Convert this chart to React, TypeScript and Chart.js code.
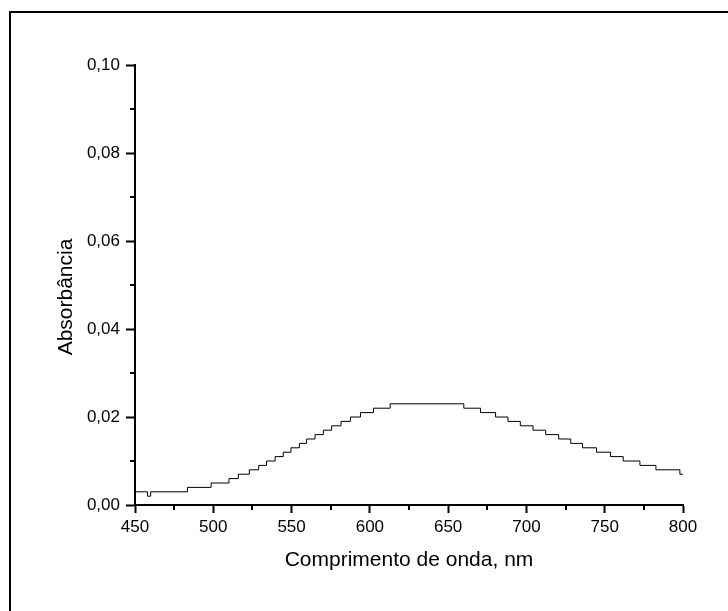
import React, { useEffect, useRef } from 'react';
import { Chart, registerables } from 'chart.js';

Chart.register(...registerables);

// Wavelength (nm) where the absorbance reading changes, and the new reading
const wavelengths = [
  450, 458, 460, 483.5, 498.6, 510, 516, 523, 529, 534, 539.5, 544.7, 549.6, 555, 559.6,
  565, 570.3, 575.6, 581.6, 587.6, 594, 602.3, 613, 660, 670.7, 680.3, 688.2, 696.1,
  704.2, 712.3, 720.6, 728.3, 735.8, 744.8, 753.7, 761.8, 772.5, 782.7, 798, 800,
];
const absorbance = [
  0.003, 0.002, 0.003, 0.004, 0.005, 0.006, 0.007, 0.008, 0.009, 0.01, 0.011, 0.012, 0.013,
  0.014, 0.015, 0.016, 0.017, 0.018, 0.019, 0.02, 0.021, 0.022, 0.023, 0.022, 0.021, 0.02,
  0.019, 0.018, 0.017, 0.016, 0.015, 0.014, 0.013, 0.012, 0.011, 0.01, 0.009, 0.008, 0.007,
  0.007,
];

const xMinorTicks = [475, 525, 575, 625, 675, 725, 775];
const yMinorTicks = [0.01, 0.03, 0.05, 0.07, 0.09];
const xTitle = 'Comprimento de onda, nm';
const yTitle = 'Absorbância';

const FONT = "'Liberation Sans', Arial, sans-serif";

const decorPlugin = {
  id: 'decor',
  afterDraw(chart: any) {
    const ctx = chart.ctx;
    const { left, bottom, top } = chart.chartArea;
    const xs = chart.scales.x;
    const ys = chart.scales.y;
    ctx.save();
    ctx.strokeStyle = '#000';
    ctx.lineWidth = 2;
    ctx.beginPath();
    for (const v of yMinorTicks) {
      const y = Math.round(ys.getPixelForValue(v));
      ctx.moveTo(left - 5, y);
      ctx.lineTo(left, y);
    }
    for (const v of xMinorTicks) {
      const x = Math.round(xs.getPixelForValue(v));
      ctx.moveTo(x, bottom);
      ctx.lineTo(x, bottom + 5);
    }
    ctx.stroke();
    // outer frame (clipped by the canvas on the right and bottom)
    ctx.lineWidth = 2;
    ctx.strokeRect(10, 12, 900, 800);
    // y-axis title
    ctx.fillStyle = '#000';
    ctx.font = `21px ${FONT}`;
    ctx.textAlign = 'center';
    ctx.textBaseline = 'middle';
    ctx.translate(66, (top + bottom) / 2 + 12);
    ctx.rotate(-Math.PI / 2);
    ctx.fillText(yTitle, 0, 0);
    ctx.restore();
  },
};

export default function App() {
  const ref = useRef<HTMLCanvasElement | null>(null);

  useEffect(() => {
    if (!ref.current) return;
    const chart = new Chart(ref.current, {
      type: 'line',
      data: {
        datasets: [
          {
            data: wavelengths.map((x, i) => ({ x, y: absorbance[i] })),
            borderColor: '#000',
            borderWidth: 1,
            pointRadius: 0,
            stepped: 'before',
            fill: false,
          },
        ],
      },
      options: {
        responsive: false,
        animation: false,
        devicePixelRatio: 1,
        layout: { padding: { left: 0, top: 65, right: 45, bottom: 0 } },
        plugins: { legend: { display: false }, tooltip: { enabled: false } },
        scales: {
          x: {
            type: 'linear',
            min: 450,
            max: 800,
            ticks: {
              stepSize: 50,
              color: '#000',
              font: { family: FONT, size: 17 },
              padding: 4,
              maxRotation: 0,
              autoSkip: false,
            },
            grid: {
              drawOnChartArea: false,
              drawTicks: true,
              tickLength: 8,
              tickColor: '#000',
              tickWidth: 2,
            },
            border: { display: true, color: '#000', width: 2 },
            title: {
              display: true,
              text: xTitle,
              color: '#000',
              font: { family: FONT, size: 21 },
              padding: { top: 0, bottom: 38 },
            },
            afterFit: (s: any) => {
              s.height = 106;
            },
          },
          y: {
            type: 'linear',
            min: 0,
            max: 0.1,
            ticks: {
              stepSize: 0.02,
              color: '#000',
              font: { family: FONT, size: 17 },
              padding: 6,
              callback: (v: any) => (Math.round(Number(v) * 100) / 100).toFixed(2).replace('.', ','),
            },
            grid: {
              drawOnChartArea: false,
              drawTicks: true,
              tickLength: 9,
              tickColor: '#000',
              tickWidth: 2,
            },
            border: { display: true, color: '#000', width: 2 },
            title: { display: false },
            afterFit: (s: any) => {
              s.width = 135;
            },
          },
        },
      },
      plugins: [decorPlugin],
    });
    return () => chart.destroy();
  }, []);

  return (
    <div style={{ position: 'absolute', left: 0, top: 0, width: 728, height: 611, background: '#fff' }}>
      <canvas ref={ref} width={728} height={611} style={{ display: 'block' }} />
    </div>
  );
}
